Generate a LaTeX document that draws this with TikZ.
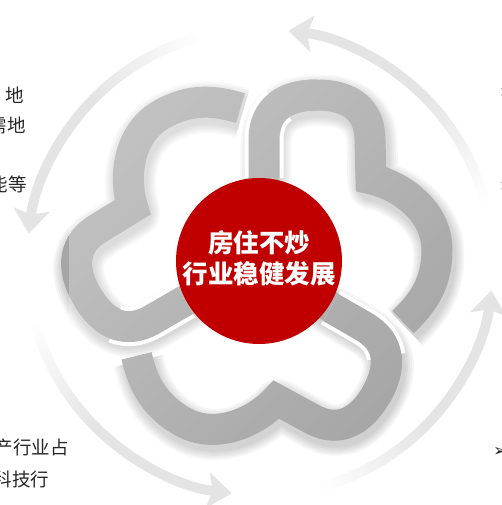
\documentclass[tikz,border=0pt]{standalone}
\usepackage{fontspec}
\newfontfamily\cjk{Noto Sans CJK SC}
\newfontfamily\sym{DejaVu Sans}
\usetikzlibrary{arrows.meta,fadings}
\definecolor{redc}{HTML}{C00000}
\definecolor{bandg}{HTML}{A6A6A6}
\definecolor{arcg}{HTML}{E4E4E4}
\definecolor{txt}{HTML}{262626}
\tikzfading[name=bandfade, left color=transparent!68, right color=transparent!100]
\newcommand\piecepath{(263,235) -- (264,140) .. controls (264,108) and (286,95) .. (317,95) .. controls (350,95) and (370,110) .. (370,140) -- (371,179) .. controls (402,186) and (437,212) .. (437,250) .. controls (437,285) and (421,305) .. (403,322)}
\newcommand\startpath{(264,178) -- (264,140) .. controls (264,108) and (286,95) .. (317,95)}
\newcommand\cutpath{(264,178) -- (264,140) .. controls (264,124) and (269.5,112.75) .. (278.9,105.5)}
\begin{document}
\begin{tikzpicture}[x=1pt,y=-1pt,
  band/.style={line width=31pt, draw=bandg, line join=miter, line cap=butt},
  sidetext/.style={inner sep=0pt, text=txt, font=\cjk\fontsize{18.5}{22}\selectfont},
  bullet/.style={inner sep=0pt, text=txt, font=\sym\fontsize{17}{17}\selectfont}]
\useasboundingbox (0,0) rectangle (502,505);
\clip (0,0) rectangle (502,505);
% soft shadow
\begin{scope}[shift={(2,5)}]
\foreach \w in {51,47,43,39,35}{
  \foreach \r in {0,120,240}{
    \draw[line width=\w pt, black, opacity=0.04, line join=round, rotate around={\r:(260,262)}] \piecepath;
  }
}
\end{scope}
% bands
\foreach \r in {0,120,240}{
  \draw[band, rotate around={\r:(260,262)}] \piecepath;
}
% cuts where a band end meets the next band
\foreach \r in {0,120,240}{
  \draw[line width=39pt, white, rotate around={\r:(260,262)}] \cutpath;
  \draw[band, rotate around={\r:(260,262)}] \startpath;
}
% light from top-left
\fill[white, path fading=bandfade, fading angle=-45] (70,60) rectangle (470,460);
% circular arrows
\foreach \s in {15,105,195,285}{
  \foreach \i in {0,...,29}{
    \pgfmathtruncatemacro\pc{(\i+1)*100/31}
    \draw[line width=10pt, draw=arcg!\pc!white] ({260+233*cos(\s+\i)},{262-233*sin(\s+\i)}) arc[start angle={-(\s+\i)}, end angle={-(\s+\i+1.4)}, radius=233];
  }
  \draw[line width=10pt, draw=arcg, -{Stealth[length=24pt,width=36pt,inset=5pt]}] ({260+233*cos(\s+30)},{262-233*sin(\s+30)}) arc[start angle={-(\s+30)}, end angle={-(\s+68)}, radius=233];
}
% centre
\node[circle, fill=redc, minimum size=166pt, inner sep=0pt] (core) at (259,261) {};
\node[text=white, align=center, inner sep=0pt, font=\cjk\bfseries\fontsize{25.5}{31}\selectfont] (title) at (259,258) {房住不炒\\行业稳健发展};
% side texts (cut by the frame)
\node[sidetext, anchor=east] (l1) at (24,95) {地};
\node[sidetext, anchor=east] (l2) at (26,125) {需地};
\node[sidetext, anchor=east] (l3) at (27,184) {能等};
\node[sidetext, anchor=west] (b1) at (-5.5,448) {产行业占};
\node[sidetext, anchor=west] (b2) at (-6.5,479) {科技行};
\node[bullet, anchor=west] (r1) at (499,93) {➢};
\node[bullet, anchor=west] (r2) at (499,187) {➢};
\node[bullet, anchor=west] (r3) at (493,452) {➢};
\end{tikzpicture}
\end{document}
